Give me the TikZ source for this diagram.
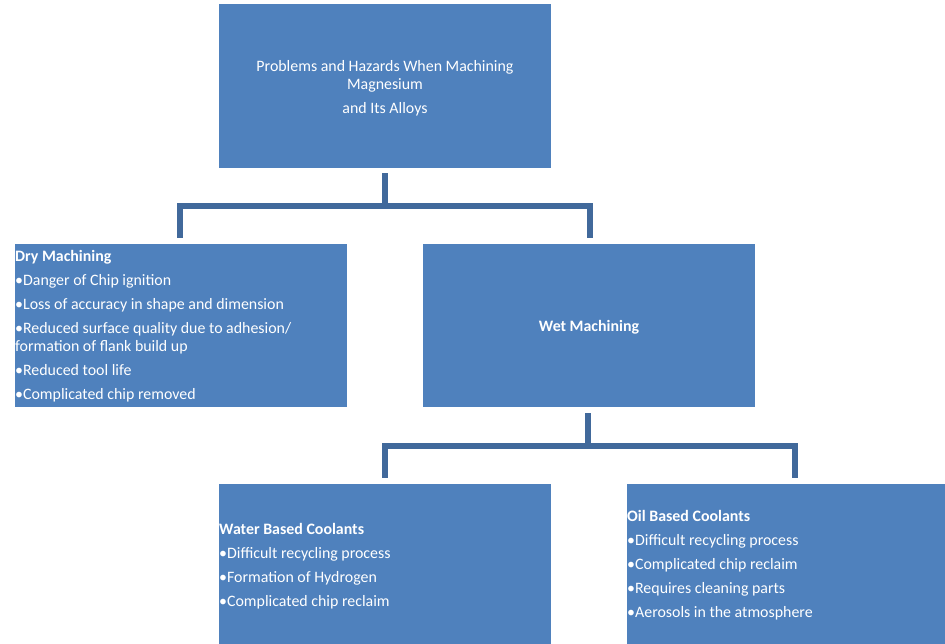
\documentclass[tikz,border=0pt]{standalone}
\usepackage{fontspec}
\setmainfont{Carlito}
\definecolor{boxblue}{HTML}{4F81BD}
\definecolor{lineblue}{HTML}{41699B}
\begin{document}
\begin{tikzpicture}[x=1pt,y=-1pt,
  box/.style={fill=boxblue,draw=none,anchor=north west,inner sep=0,minimum width=#1},
  txt/.style={text=white,font=\fontsize{15.9}{18}\selectfont,inner sep=0,align=left,anchor=north west},
  conn/.style={draw=lineblue,line width=5.5pt}]
\useasboundingbox (0,0) rectangle (945,644);
\node[box=332pt,minimum height=164pt] (top) at (219,4) {};
\node[box=332pt,minimum height=163pt] (dry) at (15,244) {};
\node[box=332pt,minimum height=163pt] (wet) at (423,244) {};
\node[box=332pt,minimum height=170pt] (water) at (219,484) {};
\node[box=330pt,minimum height=170pt] (oil) at (627,484) {};
\node[txt,align=center,anchor=center] (toptxt) at (385,88) {Problems and Hazards When Machining\\Magnesium\\[6pt]and Its Alloys};
\node[txt] (drytxt) at (15,250) {\textbf{Dry Machining}\\[6pt]•Danger of Chip ignition\\[6pt]•Loss of accuracy in shape and dimension\\[6pt]•Reduced surface quality due to adhesion/\\formation of flank build up\\[6pt]•Reduced tool life\\[6pt]•Complicated chip removed};
\node[txt,anchor=center] (wettxt) at (589,327) {\textbf{Wet Machining}};
\node[txt] (watertxt) at (219,523) {\textbf{Water Based Coolants}\\[6pt]•Difficult recycling process\\[6pt]•Formation of Hydrogen\\[6pt]•Complicated chip reclaim};
\node[txt] (oiltxt) at (627,510) {\textbf{Oil Based Coolants}\\[6pt]•Difficult recycling process\\[6pt]•Complicated chip reclaim\\[6pt]•Requires cleaning parts\\[6pt]•Aerosols in the atmosphere};
\draw[conn] (top.south) ++(0,5) |- (180,206) -- (180,238);
\draw[conn] (top.south) ++(0,5) |- (590,206) -- (590,238);
\draw[conn] (wet.south) ++(-1,6) |- (385,446) -- (385,478);
\draw[conn] (wet.south) ++(-1,6) |- (795,446) -- (795,478);
\end{tikzpicture}
\end{document}
